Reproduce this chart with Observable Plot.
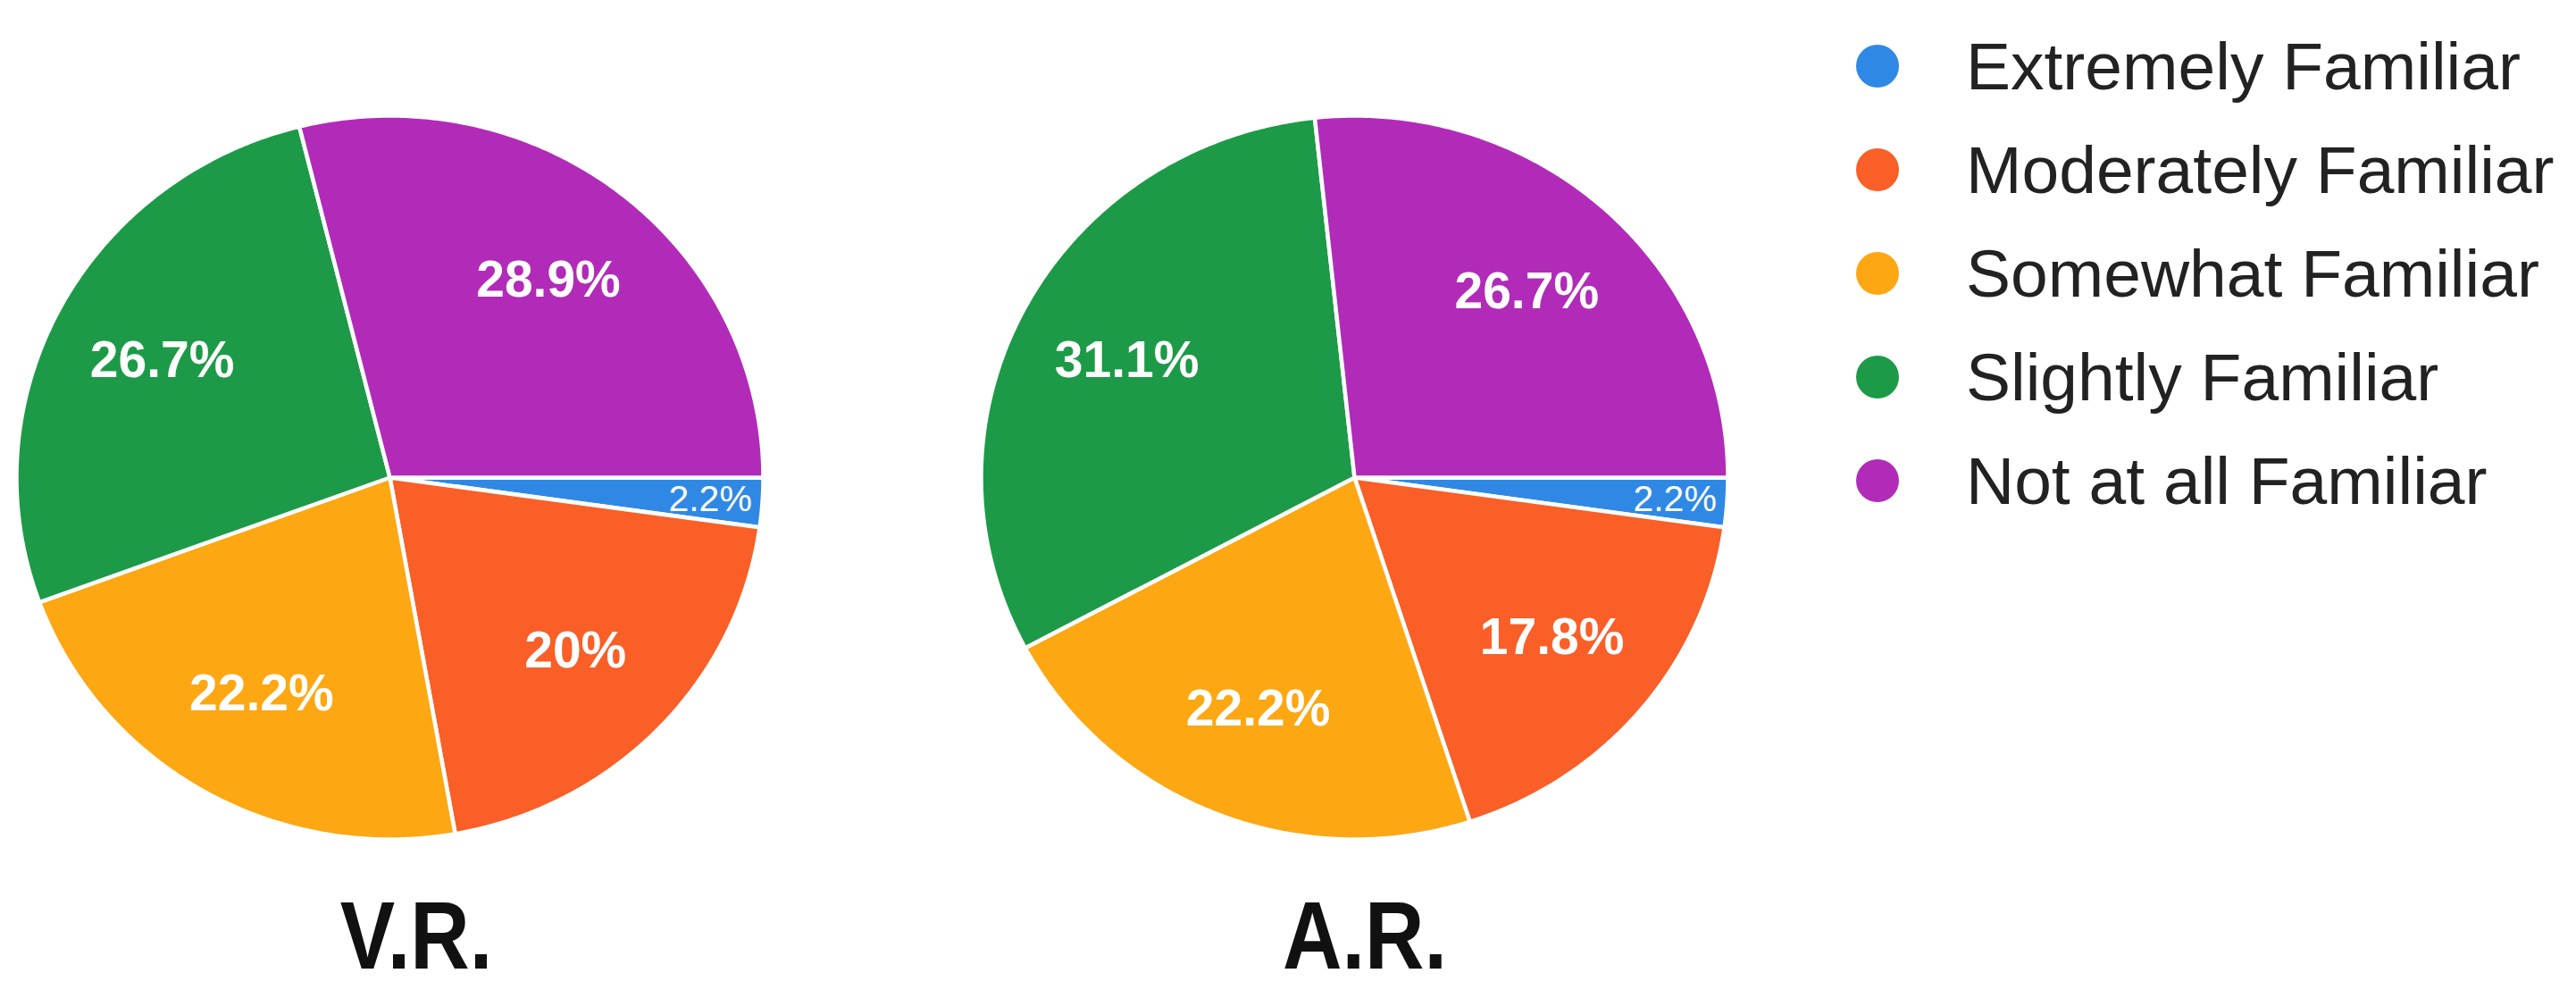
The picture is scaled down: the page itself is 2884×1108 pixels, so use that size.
<!DOCTYPE html>
<html>
<head>
<meta charset="utf-8">
<script src="https://cdn.jsdelivr.net/npm/d3@7"></script>
<script src="https://cdn.jsdelivr.net/npm/@observablehq/plot@0.6"></script>
<style>
  html, body { margin: 0; padding: 0; background: #ffffff; }
  #root { position: relative; width: 2884px; height: 1108px; overflow: hidden; font-family: "Liberation Sans", Arial, sans-serif; }
  .pie { position: absolute; }
  .pie svg { display: block; overflow: visible; }
  .title { position: absolute; font-weight: bold; font-size: 107px; line-height: 107px; color: #111; white-space: nowrap; transform: translateX(-50%) scaleX(0.86); transform-origin: center; }
  .legend { position: absolute; left: 2078px; top: 0; }
  .legend .row { position: absolute; left: 0; display: flex; align-items: center; height: 80px; white-space: nowrap; }
  .legend .dot { width: 48px; height: 48px; border-radius: 50%; margin-right: 75px; }
  .legend .lbl { font-size: 75px; line-height: 80px; color: #222; }
</style>
</head>
<body>
<div id="root"></div>
<script>
// ---- data ----
const categories = ["Extremely Familiar", "Moderately Familiar", "Somewhat Familiar", "Slightly Familiar", "Not at all Familiar"];
const colors = ["#2f89e4", "#f95f27", "#fda713", "#1d9a47", "#b12bb8"];
const groups = ["V.R.", "A.R."];
const vrValues = [2.2, 20, 22.2, 26.7, 28.9];
const arValues = [2.2, 17.8, 22.2, 31.1, 26.7];

// ---- helpers ----
function pieData(values) {
  const arcs = d3.pie().sort(null).value(d => d)
    .startAngle(Math.PI / 2).endAngle(Math.PI / 2 + 2 * Math.PI)(values);
  const pts = [];
  const labels = [];
  arcs.forEach((a, i) => {
    const cat = categories[i];
    pts.push({cat, x: 0, y: 0});
    const n = Math.max(2, Math.ceil((a.endAngle - a.startAngle) / (Math.PI / 360)));
    for (let k = 0; k <= n; k++) {
      const t = a.startAngle + (a.endAngle - a.startAngle) * k / n;
      pts.push({cat, x: Math.sin(t), y: Math.cos(t)});
    }
    pts.push({cat, x: 0, y: 0});
    const mid = (a.startAngle + a.endAngle) / 2;
    const small = values[i] < 5;
    const rr = small ? 0.86 : 0.69;
    labels.push({cat, text: values[i] + "%", x: rr * Math.sin(mid), y: rr * Math.cos(mid), small});
  });
  return {pts, labels};
}

function pieChart(values) {
  const {pts, labels} = pieData(values);
  return Plot.plot({
    width: 852,
    height: 826,
    margin: 8,
    x: {domain: [-1, 1], axis: null},
    y: {domain: [-1, 1], axis: null},
    color: {domain: categories, range: colors},
    style: {fontFamily: "Liberation Sans, Arial, sans-serif", background: "transparent", overflow: "visible"},
    marks: [
      Plot.line(pts, {x: "x", y: "y", z: "cat", fill: "cat", stroke: "white", strokeWidth: 4.5, strokeLinejoin: "round", strokeLinecap: "round"}),
      Plot.text(labels.filter(d => !d.small), {x: "x", y: "y", text: "text", fill: "white", fontSize: 57, fontWeight: "bold"}),
      Plot.text(labels.filter(d => d.small), {x: "x", y: "y", text: "text", fill: "white", fontSize: 41})
    ]
  });
}

// ---- layout ----
const root = document.getElementById("root");
const layout = [
  {values: vrValues, left: 10, top: 121, titleX: 466},
  {values: arValues, left: 1090, top: 121, titleX: 1528}
];
layout.forEach((L, i) => {
  const wrap = document.createElement("div");
  wrap.className = "pie";
  wrap.style.left = L.left + "px";
  wrap.style.top = L.top + "px";
  wrap.appendChild(pieChart(L.values));
  root.appendChild(wrap);
  const t = document.createElement("div");
  t.className = "title";
  t.style.left = L.titleX + "px";
  t.style.top = "994px";
  t.textContent = groups[i];
  root.appendChild(t);
});

const legend = document.createElement("div");
legend.className = "legend";
categories.forEach((c, i) => {
  const row = document.createElement("div");
  row.className = "row";
  row.style.top = (74 + 116 * i - 40) + "px";
  const dot = document.createElement("div");
  dot.className = "dot";
  dot.style.background = colors[i];
  const lbl = document.createElement("div");
  lbl.className = "lbl";
  lbl.textContent = c;
  row.appendChild(dot);
  row.appendChild(lbl);
  legend.appendChild(row);
});
root.appendChild(legend);
</script>
</body>
</html>
